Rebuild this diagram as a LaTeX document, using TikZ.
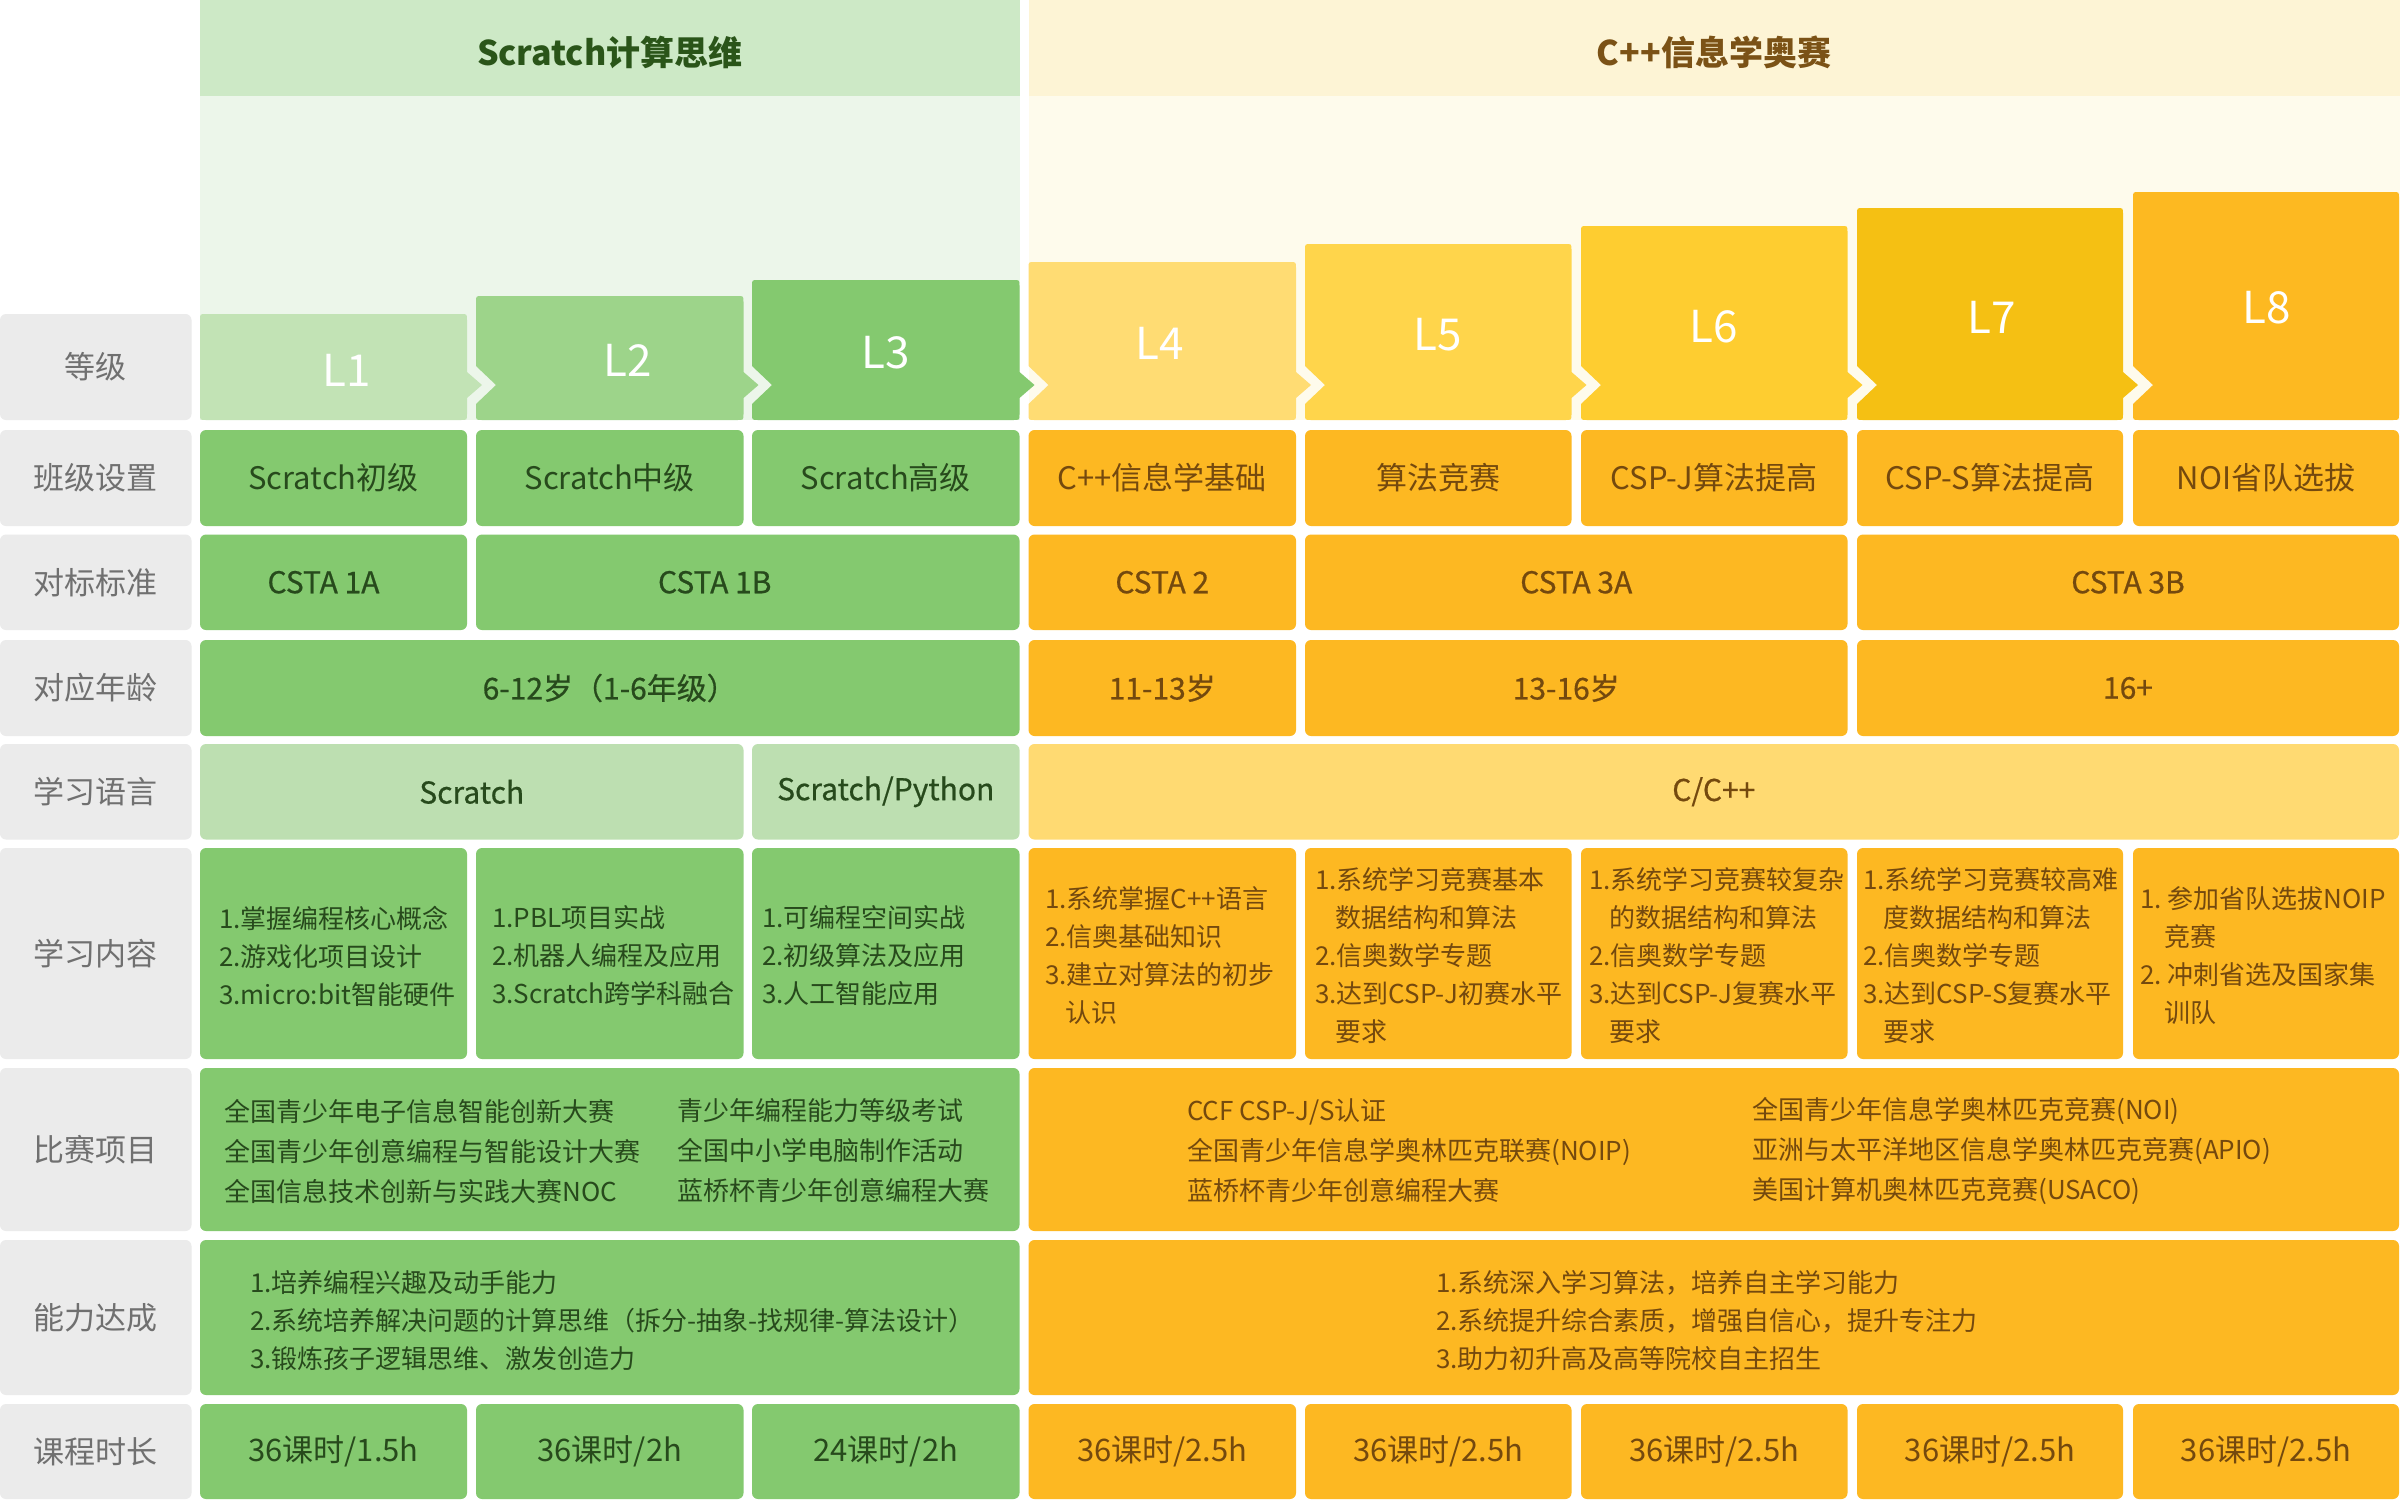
\documentclass[tikz,border=0pt]{standalone}
\usepackage{fontspec}
\setmainfont{Noto Sans CJK SC}
\newfontfamily\medfont[FakeBold=0.6]{Noto Sans CJK SC}
\definecolor{gLa}{HTML}{C2E3B5}
\definecolor{gLb}{HTML}{9DD48A}
\definecolor{gLc}{HTML}{84C96F}
\definecolor{gmain}{HTML}{84C96F}
\definecolor{glang}{HTML}{BDDFB1}
\definecolor{ghead}{HTML}{CDE9C6}
\definecolor{gbg}{HTML}{ECF6EA}
\definecolor{yhead}{HTML}{FDF4D5}
\definecolor{ybg}{HTML}{FEFBEC}
\definecolor{yLd}{HTML}{FFDC73}
\definecolor{yLe}{HTML}{FFD54B}
\definecolor{yLf}{HTML}{FECD30}
\definecolor{yLg}{HTML}{F5C013}
\definecolor{yLh}{HTML}{FDB921}
\definecolor{omain}{HTML}{FDB822}
\definecolor{olang}{HTML}{FFDA72}
\definecolor{lgray}{HTML}{EBEBEB}
\definecolor{ltext}{HTML}{707070}
\definecolor{gtext}{HTML}{274A1C}
\definecolor{otext}{HTML}{74490E}
\definecolor{ghtext}{HTML}{2A5519}
\definecolor{yhtext}{HTML}{7B5216}
\tikzset{
  box/.style={rectangle, rounded corners=6pt, inner sep=0pt, outer sep=0pt},
  lab/.style={box, fill=lgray, text=ltext, font=\fontsize{31}{36}\selectfont},
  gc/.style={box, fill=gmain, text=gtext},
  oc/.style={box, fill=omain, text=otext},
  tbig/.style={font=\fontsize{31}{36}\selectfont},
  tmed/.style={font=\medfont\fontsize{30}{36}\selectfont},
  para/.style={inner sep=0pt, align=left, anchor=west, font=\fontsize{26}{38}\selectfont},
  parb/.style={para, font=\fontsize{26}{40}\selectfont},
  lvltxt/.style={text=white, font=\fontsize{44}{50}\selectfont, inner sep=0pt},
  hdr/.style={font=\bfseries\fontsize{34}{40}\selectfont, inner sep=0pt},
  band/.style={rectangle, inner sep=0pt, outer sep=0pt},
}
\newcommand\cellat[7]{\node[#1, minimum width={#5-#3}, minimum height={#6-#4}] (#2) at ({(#3+#5)/2},{(#4+#6)/2}) {#7};}
% level boxes: colour, x1, x2, top
\newcommand\lvlfirst[4]{\fill[#1] (#2,{#4+6}) .. controls (#2,#4) .. ({#2+6},#4) -- ({#3-6},#4) .. controls (#3,#4) .. (#3,{#4+6}) -- (#3,372) -- ({#3+15},385) -- (#3,398) -- (#3,414) .. controls (#3,420) .. ({#3-6},420) -- ({#2+6},420) .. controls (#2,420) .. (#2,414) -- cycle;}
\newcommand\lvlmid[4]{\fill[#1] ({#2+20},385) -- (#2,366) -- (#2,{#4+6}) .. controls (#2,#4) .. ({#2+6},#4) -- ({#3-6},#4) .. controls (#3,#4) .. (#3,{#4+6}) -- (#3,372) -- ({#3+15},385) -- (#3,398) -- (#3,414) .. controls (#3,420) .. ({#3-6},420) -- ({#2+6},420) .. controls (#2,420) .. (#2,414) -- (#2,404) -- cycle;}
\newcommand\lvllast[4]{\fill[#1] ({#2+20},385) -- (#2,366) -- (#2,{#4+6}) .. controls (#2,#4) .. ({#2+6},#4) -- ({#3-6},#4) .. controls (#3,#4) .. (#3,{#4+6}) -- (#3,414) .. controls (#3,420) .. ({#3-6},420) -- ({#2+6},420) .. controls (#2,420) .. (#2,414) -- (#2,404) -- cycle;}
\begin{document}
\begin{tikzpicture}[x=1pt,y=-1pt]
\useasboundingbox (0,0) rectangle (2400,1500);
\fill[white] (0,0) rectangle (2400,1500);
% headers and light backgrounds
\node[band, fill=ghead, minimum width=819.5, minimum height=95.5] (hg) at (609.75,47.75) {};
\node[band, fill=gbg, minimum width=819.5, minimum height=324.5] (bg) at (609.75,257.75) {};
\node[band, fill=yhead, minimum width=1371.5, minimum height=95.5] (hy) at (1714.25,47.75) {};
\node[band, fill=ybg, minimum width=1371.5, minimum height=324.5] (by) at (1714.25,257.75) {};
\node[hdr, text=ghtext] (hgt) at (609.75,52) {Scratch计算思维};
\node[hdr, text=yhtext] (hyt) at (1714,52) {C++信息学奥赛};
% level boxes
\lvlfirst{gLa}{200}{467}{314}
\lvlmid{gLb}{476}{743.5}{296}
\lvlmid{gLc}{752}{1019.5}{280}
\lvlmid{yLd}{1028.5}{1296}{262}
\lvlmid{yLe}{1305}{1571.5}{244}
\lvlmid{yLf}{1581}{1847.5}{226}
\lvlmid{yLg}{1857}{2123}{208}
\lvllast{yLh}{2133}{2399}{192}
\node[lvltxt] (v1) at (347,370) {L1};
\node[lvltxt] (v2) at (628,360) {L2};
\node[lvltxt] (v3) at (886,353) {L3};
\node[lvltxt] (v4) at (1160,343) {L4};
\node[lvltxt] (v5) at (1438,335) {L5};
\node[lvltxt] (v6) at (1714,327) {L6};
\node[lvltxt] (v7) at (1992,317) {L7};
\node[lvltxt] (v8) at (2267,308) {L8};
% label column
\cellat{lab}{la0}{0}{314}{191.5}{420}{等级}
\cellat{lab}{la1}{0}{430}{191.5}{526}{班级设置}
\cellat{lab}{la2}{0}{534.5}{191.5}{630}{对标标准}
\cellat{lab}{la3}{0}{640}{191.5}{736}{对应年龄}
\cellat{lab}{la4}{0}{744}{191.5}{839.5}{学习语言}
\cellat{lab}{la5}{0}{848}{191.5}{1059}{学习内容}
\cellat{lab}{la6}{0}{1068}{191.5}{1231}{比赛项目}
\cellat{lab}{la7}{0}{1240}{191.5}{1395}{能力达成}
\cellat{lab}{la8}{0}{1404}{191.5}{1499}{课程时长}
% row 1
\cellat{gc,tbig}{r1a}{200}{430}{467}{526}{Scratch初级}
\cellat{gc,tbig}{r1b}{476}{430}{743.5}{526}{Scratch中级}
\cellat{gc,tbig}{r1c}{752}{430}{1019.5}{526}{Scratch高级}
\cellat{oc,tbig}{r1d}{1028.5}{430}{1296}{526}{C++信息学基础}
\cellat{oc,tbig}{r1e}{1305}{430}{1571.5}{526}{算法竞赛}
\cellat{oc,tbig}{r1f}{1581}{430}{1847.5}{526}{CSP-J算法提高}
\cellat{oc,tbig}{r1g}{1857}{430}{2123}{526}{CSP-S算法提高}
\cellat{oc,tbig}{r1h}{2133}{430}{2399}{526}{NOI省队选拔}
% row 2
\cellat{gc,tmed}{r2a}{200}{534.5}{467}{630}{\hspace*{-20pt}CSTA 1A}
\cellat{gc,tmed}{r2b}{476}{534.5}{1019.5}{630}{\hspace*{-66pt}CSTA 1B}
\cellat{oc,tmed}{r2c}{1028.5}{534.5}{1296}{630}{CSTA 2}
\cellat{oc,tmed}{r2d}{1305}{534.5}{1847.5}{630}{CSTA 3A}
\cellat{oc,tmed}{r2e}{1857}{534.5}{2399}{630}{CSTA 3B}
% row 3
\cellat{gc,tmed}{r3a}{200}{640}{1019.5}{736}{6-12岁（1-6年级）}
\cellat{oc,tmed}{r3b}{1028.5}{640}{1296}{736}{11-13岁}
\cellat{oc,tmed}{r3c}{1305}{640}{1847.5}{736}{\hspace*{-20pt}13-16岁}
\cellat{oc,tmed}{r3d}{1857}{640}{2399}{736}{16+}
% row 4
\cellat{gc,tmed,fill=glang}{r4a}{200}{744}{743.5}{839.5}{Scratch}
\cellat{gc,tmed,fill=glang}{r4b}{752}{744}{1019.5}{839.5}{Scratch/Python}
\cellat{oc,tmed,fill=olang}{r4c}{1028.5}{744}{2399}{839.5}{C/C++}
% row 5 content
\cellat{gc}{r5a}{200}{848}{467}{1059}{}
\cellat{gc}{r5b}{476}{848}{743.5}{1059}{}
\cellat{gc}{r5c}{752}{848}{1019.5}{1059}{}
\cellat{oc}{r5d}{1028.5}{848}{1296}{1059}{}
\cellat{oc}{r5e}{1305}{848}{1571.5}{1059}{}
\cellat{oc}{r5f}{1581}{848}{1847.5}{1059}{}
\cellat{oc}{r5g}{1857}{848}{2123}{1059}{}
\cellat{oc}{r5h}{2133}{848}{2399}{1059}{}
\node[para, text=gtext] (p5a) at (219,956) {1.掌握编程核心概念\\2.游戏化项目设计\\3.micro:bit智能硬件};
\node[para, text=gtext] (p5b) at (492,956) {1.PBL项目实战\\2.机器人编程及应用\\3.Scratch跨学科融合};
\node[para, text=gtext] (p5c) at (762,956) {1.可编程空间实战\\2.初级算法及应用\\3.人工智能应用};
\node[para, text=otext] (p5d) at (1045,956) {1.系统掌握C++语言\\2.信奥基础知识\\3.建立对算法的初步\\\hspace*{20pt}认识};
\node[para, text=otext] (p5e) at (1315,956) {1.系统学习竞赛基本\\\hspace*{20pt}数据结构和算法\\2.信奥数学专题\\3.达到CSP-J初赛水平\\\hspace*{20pt}要求};
\node[para, text=otext] (p5f) at (1589,956) {1.系统学习竞赛较复杂\\\hspace*{20pt}的数据结构和算法\\2.信奥数学专题\\3.达到CSP-J复赛水平\\\hspace*{20pt}要求};
\node[para, text=otext] (p5g) at (1863,956) {1.系统学习竞赛较高难\\\hspace*{20pt}度数据结构和算法\\2.信奥数学专题\\3.达到CSP-S复赛水平\\\hspace*{20pt}要求};
\node[para, text=otext] (p5h) at (2140,956) {1.~参加省队选拔NOIP\\\hspace*{24pt}竞赛\\2.~冲刺省选及国家集\\\hspace*{24pt}训队};
% row 6 competitions
\cellat{gc}{r6a}{200}{1068}{1019.5}{1231}{}
\cellat{oc}{r6b}{1028.5}{1068}{2399}{1231}{}
\node[parb, text=gtext] (p6a) at (224,1151) {全国青少年电子信息智能创新大赛\\全国青少年创意编程与智能设计大赛\\全国信息技术创新与实践大赛NOC};
\node[parb, text=gtext] (p6b) at (677,1151) {青少年编程能力等级考试\\全国中小学电脑制作活动\\蓝桥杯青少年创意编程大赛};
\node[parb, text=otext] (p6c) at (1187,1151) {CCF CSP-J/S认证\\全国青少年信息学奥林匹克联赛(NOIP)\\蓝桥杯青少年创意编程大赛};
\node[parb, text=otext] (p6d) at (1752,1151) {全国青少年信息学奥林匹克竞赛(NOI)\\亚洲与太平洋地区信息学奥林匹克竞赛(APIO)\\美国计算机奥林匹克竞赛(USACO)};
% row 7 abilities
\cellat{gc}{r7a}{200}{1240}{1019.5}{1395}{}
\cellat{oc}{r7b}{1028.5}{1240}{2399}{1395}{}
\node[para, text=gtext] (p7a) at (250,1321) {1.培养编程兴趣及动手能力\\2.系统培养解决问题的计算思维（拆分-抽象-找规律-算法设计）\\3.锻炼孩子逻辑思维、激发创造力};
\node[para, text=otext] (p7b) at (1436,1321) {1.系统深入学习算法，培养自主学习能力\\2.系统提升综合素质，增强自信心，提升专注力\\3.助力初升高及高等院校自主招生};
% row 8 durations
\cellat{gc,tbig}{r8a}{200}{1404}{467}{1499}{36课时/1.5h}
\cellat{gc,tbig}{r8b}{476}{1404}{743.5}{1499}{36课时/2h}
\cellat{gc,tbig}{r8c}{752}{1404}{1019.5}{1499}{24课时/2h}
\cellat{oc,tbig}{r8d}{1028.5}{1404}{1296}{1499}{36课时/2.5h}
\cellat{oc,tbig}{r8e}{1305}{1404}{1571.5}{1499}{36课时/2.5h}
\cellat{oc,tbig}{r8f}{1581}{1404}{1847.5}{1499}{36课时/2.5h}
\cellat{oc,tbig}{r8g}{1857}{1404}{2123}{1499}{36课时/2.5h}
\cellat{oc,tbig}{r8h}{2133}{1404}{2399}{1499}{36课时/2.5h}
\end{tikzpicture}
\end{document}
